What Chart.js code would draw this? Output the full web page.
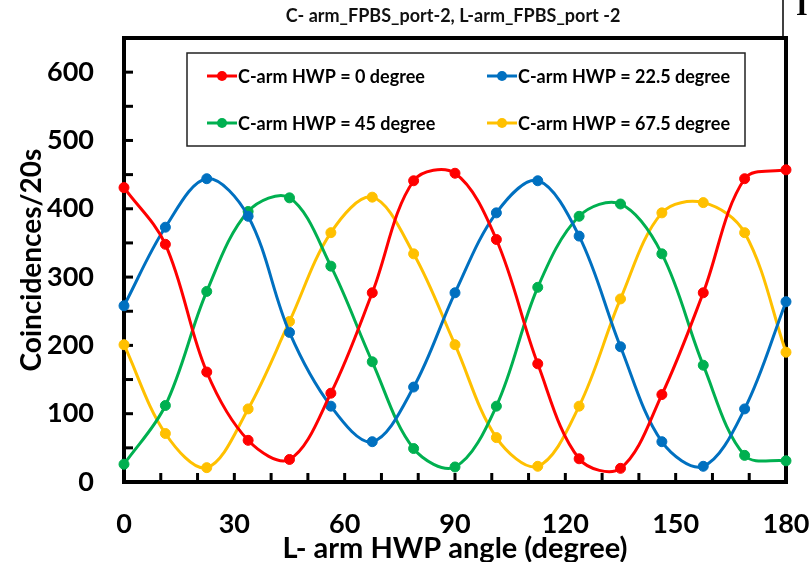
<!DOCTYPE html>
<html>
<head>
<meta charset="utf-8">
<script src="https://cdn.jsdelivr.net/npm/chart.js@4.4.1/dist/chart.umd.min.js"></script>
<style>
  html, body { margin: 0; padding: 0; background: #fff; }
  canvas { display: block; }
</style>
</head>
<body>
<canvas id="hwp-chart" width="811" height="562"></canvas>
<script>
// L-arm HWP angle (degree)
const angles = [0, 11.25, 22.5, 33.75, 45, 56.25, 67.5, 78.75, 90, 101.25, 112.5, 123.75, 135, 146.25, 157.5, 168.75, 180];

// coincidences per 20 s for each C-arm HWP setting
const cArm0 = [431, 348, 161, 61, 33, 130, 277, 441, 452, 355, 173, 34, 20, 128, 277, 444, 457];
const cArm225 = [258, 373, 444, 389, 219, 111, 59, 139, 277, 394, 441, 360, 198, 59, 23, 107, 264];
const cArm45 = [26, 112, 279, 396, 416, 316, 176, 49, 22, 111, 285, 389, 407, 334, 171, 39, 31];
const cArm675 = [201, 71, 21, 107, 235, 365, 417, 334, 201, 65, 23, 111, 268, 394, 409, 365, 190];

const seriesLabels = ['C-arm HWP = 0 degree', 'C-arm HWP = 22.5 degree', 'C-arm HWP = 45 degree', 'C-arm HWP = 67.5 degree'];
const seriesColors = ['#FF0000', '#0070C0', '#00B050', '#FFC000'];

const FONT = 'Lato, "Open Sans", sans-serif';

const toPoints = (values) => values.map((v, i) => ({ x: angles[i], y: v }));

const makeDataset = (idx, values) => ({
  label: seriesLabels[idx],
  data: toPoints(values),
  borderColor: seriesColors[idx],
  backgroundColor: seriesColors[idx],
  borderWidth: 3,
  pointRadius: 5,
  pointBorderWidth: 1,
  pointBackgroundColor: seriesColors[idx],
  tension: 0.35,
  clip: false
});

// frame, inward tick marks, legend box, title
const framePlugin = {
  id: 'frame',
  beforeDatasetsDraw(chart) {
    const { ctx, chartArea: a, scales } = chart;
    ctx.save();
    ctx.strokeStyle = '#000';
    ctx.lineWidth = 3;
    ctx.lineCap = 'butt';
    // tick marks pointing into the plot
    scales.x.ticks.forEach(t => {
      const px = scales.x.getPixelForValue(t.value);
      ctx.beginPath();
      ctx.moveTo(px, a.bottom);
      ctx.lineTo(px, a.bottom - 9);
      ctx.stroke();
    });
    scales.y.ticks.forEach(t => {
      const py = scales.y.getPixelForValue(t.value);
      ctx.beginPath();
      ctx.moveTo(a.left, py);
      ctx.lineTo(a.left + 9, py);
      ctx.stroke();
    });
    ctx.lineWidth = 4;
    ctx.strokeRect(a.left, a.top, a.right - a.left, a.bottom - a.top);
    ctx.restore();
  },
  afterDraw(chart) {
    const { ctx } = chart;
    ctx.save();

    // title
    ctx.fillStyle = '#111';
    ctx.font = 'bold 18px ' + FONT;
    ctx.textAlign = 'center';
    ctx.textBaseline = 'middle';
    ctx.fillText('C- arm_FPBS_port-2, L-arm_FPBS_port -2', 453, 16);

    // edge of the neighbouring panel
    ctx.strokeStyle = '#000';
    ctx.lineWidth = 1.5;
    ctx.beginPath();
    ctx.moveTo(783, 0);
    ctx.lineTo(783, 38);
    ctx.stroke();
    ctx.font = 'bold 30px "Liberation Serif", serif';
    ctx.textAlign = 'left';
    ctx.textBaseline = 'alphabetic';
    ctx.fillStyle = '#000';
    ctx.fillText('I', 796, 15);

    // legend
    ctx.fillStyle = '#fff';
    ctx.fillRect(187, 53, 558, 93);
    ctx.strokeStyle = '#222';
    ctx.lineWidth = 1.5;
    ctx.strokeRect(187, 53, 558, 93);
    const cols = [207, 487];
    const rows = [76, 123];
    chart.data.datasets.forEach((ds, i) => {
      const x = cols[i % 2];
      const y = rows[Math.floor(i / 2)];
      ctx.strokeStyle = ds.borderColor;
      ctx.lineWidth = 3;
      ctx.beginPath();
      ctx.moveTo(x, y);
      ctx.lineTo(x + 30, y);
      ctx.stroke();
      ctx.fillStyle = ds.borderColor;
      ctx.beginPath();
      ctx.arc(x + 15, y, 5, 0, Math.PI * 2);
      ctx.fill();
      ctx.fillStyle = '#000';
      ctx.font = 'bold 18px ' + FONT;
      ctx.textAlign = 'left';
      ctx.textBaseline = 'middle';
      ctx.fillText(ds.label, x + 31, y + 1);
    });
    ctx.restore();
  }
};

new Chart(document.getElementById('hwp-chart').getContext('2d'), {
  type: 'line',
  data: {
    datasets: [
      makeDataset(0, cArm0),
      makeDataset(1, cArm225),
      makeDataset(2, cArm45),
      makeDataset(3, cArm675)
    ]
  },
  options: {
    responsive: false,
    animation: false,
    layout: {
      padding: { left: 0, right: 25, top: 38, bottom: 0 }
    },
    plugins: {
      legend: { display: false },
      title: { display: false },
      tooltip: { enabled: false }
    },
    scales: {
      x: {
        type: 'linear',
        min: 0,
        max: 180,
        afterFit: (s) => {
          s.height = 80;
          s.paddingLeft = 0;
          s.paddingRight = 0;
        },
        grid: { display: false, drawTicks: false },
        border: { display: false },
        ticks: {
          stepSize: 10,
          autoSkip: false,
          maxRotation: 0,
          padding: 26,
          color: '#000',
          font: { family: FONT, size: 27, weight: 'bold' },
          callback: (v) => (v % 30 === 0 ? v : '')
        },
        title: {
          display: true,
          text: 'L- arm HWP angle (degree)',
          color: '#000',
          font: { family: FONT, size: 29, weight: 'bold', lineHeight: 1.0 },
          padding: { top: 0, bottom: -1 }
        }
      },
      y: {
        min: 0,
        max: 650,
        afterFit: (s) => {
          s.width = 124;
          s.paddingTop = 0;
          s.paddingBottom = 0;
        },
        grid: { display: false, drawTicks: false },
        border: { display: false },
        ticks: {
          stepSize: 50,
          autoSkip: false,
          padding: 30,
          color: '#000',
          font: { family: FONT, size: 27, weight: 'bold' },
          callback: (v) => (v % 100 === 0 ? v : '')
        },
        title: {
          display: true,
          text: 'Coincidences/20s',
          color: '#000',
          font: { family: FONT, size: 28, weight: 'bold', lineHeight: 1.2 },
          padding: { top: 15, bottom: 0 }
        }
      }
    }
  },
  plugins: [framePlugin]
});
</script>
</body>
</html>
